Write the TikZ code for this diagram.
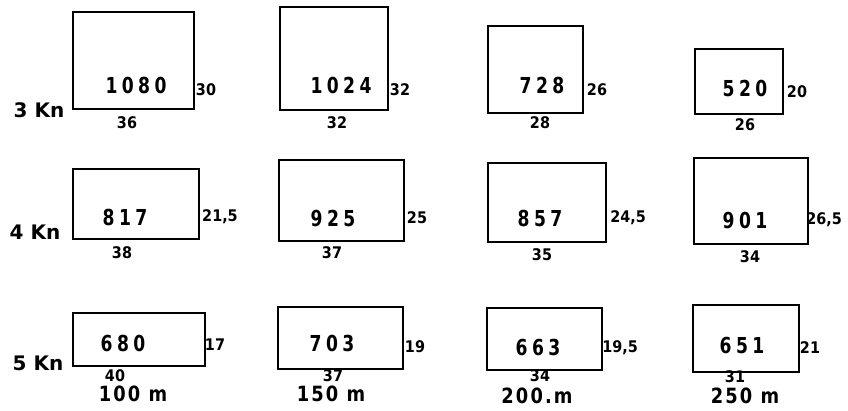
\documentclass[tikz,border=0pt]{standalone}
\usepackage{fontspec}
\setmainfont{DejaVu Sans}
\newfontfamily\bigfont[FakeStretch=0.78,LetterSpace=20]{DejaVu Sans}
\newfontfamily\dimfont{DejaVu Sans Condensed}
\newfontfamily\distfont[FakeStretch=0.85,LetterSpace=10]{DejaVu Sans}
\begin{document}
\begin{tikzpicture}[x=1pt,y=-1pt,
  box/.style={draw, line width=1.7pt, rectangle, inner sep=0pt},
  val/.style={font=\bigfont\bfseries\fontsize{22}{22}\selectfont, inner sep=0pt},
  dim/.style={font=\dimfont\bfseries\fontsize{16}{16}\selectfont, inner sep=0pt},
  row/.style={font=\bfseries\fontsize{20}{20}\selectfont, inner sep=0pt},
  dist/.style={font=\distfont\bfseries\fontsize{21}{21}\selectfont, inner sep=0pt}]
\useasboundingbox (0,0) rectangle (848,410);
% row 1 (3 Kn)
\node[box, minimum width=121pt, minimum height=97pt] (b11) at (133.5,60.5) {};
\node[box, minimum width=108pt, minimum height=103pt] (b12) at (334,58.5) {};
\node[box, minimum width=95pt, minimum height=87pt] (b13) at (535.5,69.5) {};
\node[box, minimum width=88pt, minimum height=65pt] (b14) at (739,81.5) {};
\node[val] (v11) at (136,85) {1080};
\node[val] (v12) at (341,85) {1024};
\node[val] (v13) at (542,85) {728};
\node[val] (v14) at (745,88) {520};
\node[dim] (h11) at (206,90) {30};
\node[dim] (h12) at (400,90) {32};
\node[dim] (h13) at (597,90) {26};
\node[dim] (h14) at (797,92) {20};
\node[dim] (w11) at (127,123) {36};
\node[dim] (w12) at (337,123) {32};
\node[dim] (w13) at (540,123) {28};
\node[dim] (w14) at (745,125) {26};
\node[row] (r1) at (39,110) {3 Kn};
% row 2 (4 Kn)
\node[box, minimum width=126pt, minimum height=70pt] (b21) at (136,204) {};
\node[box, minimum width=125pt, minimum height=81pt] (b22) at (341.5,200.5) {};
\node[box, minimum width=118pt, minimum height=79pt] (b23) at (547,202.5) {};
\node[box, minimum width=114pt, minimum height=86pt] (b24) at (751,201) {};
\node[val] (v21) at (125,217) {817};
\node[val] (v22) at (333,218) {925};
\node[val] (v23) at (540,218) {857};
\node[val] (v24) at (745,220) {901};
\node[dim] (h21) at (220,217) {21,5};
\node[dim] (h22) at (417,218) {25};
\node[dim] (h23) at (628,218) {24,5};
\node[dim] (h24) at (824,220) {26,5};
\node[dim] (w21) at (122,253) {38};
\node[dim] (w22) at (332,253) {37};
\node[dim] (w23) at (542,255) {35};
\node[dim] (w24) at (750,257) {34};
\node[row] (r2) at (35,232) {4 Kn};
% row 3 (5 Kn)
\node[box, minimum width=132pt, minimum height=53pt] (b31) at (139,339.5) {};
\node[box, minimum width=125pt, minimum height=62pt] (b32) at (340.5,338) {};
\node[box, minimum width=115pt, minimum height=62pt] (b33) at (544.5,339) {};
\node[box, minimum width=106pt, minimum height=67pt] (b34) at (746,338.5) {};
\node[val] (v31) at (123,343) {680};
\node[val] (v32) at (332,343) {703};
\node[val] (v33) at (538,347) {663};
\node[val] (v34) at (742,345) {651};
\node[dim] (h31) at (215,345) {17};
\node[dim] (h32) at (415,347) {19};
\node[dim] (h33) at (620,348) {19,5};
\node[dim] (h34) at (810,348) {21};
\node[dim] (w31) at (115,376) {40};
\node[dim] (w32) at (333,376) {37};
\node[dim] (w33) at (540,376) {34};
\node[dim] (w34) at (735,377) {31};
\node[row] (r3) at (38,363) {5 Kn};
\node[dist] (d1) at (133,394) {100 m};
\node[dist] (d2) at (331,394) {150 m};
\node[dist] (d3) at (537,396) {200.m};
\node[dist] (d4) at (745,396) {250 m};
\end{tikzpicture}
\end{document}
